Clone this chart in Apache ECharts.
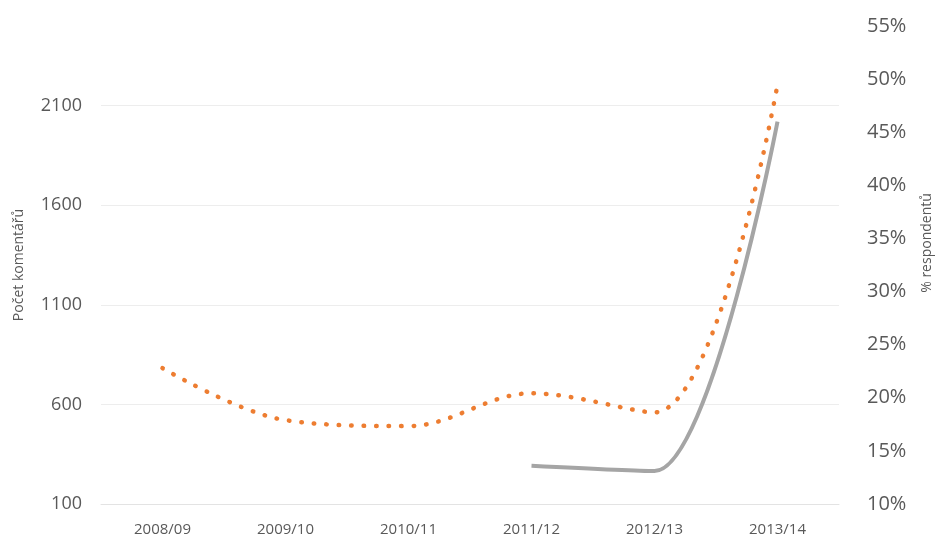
<!DOCTYPE html>
<html>
<head>
<meta charset="utf-8">
<script src="https://cdn.jsdelivr.net/npm/echarts@6/dist/echarts.min.js"></script>
<style>
html, body { margin: 0; padding: 0; background: #fff; }
#chart { width: 937px; height: 542px; }
</style>
</head>
<body>
<div id="chart"></div>
<script>
// data
const years = ["2008/09", "2009/10", "2010/11", "2011/12", "2012/13", "2013/14"];
const comments = [782, 521, 491, 656, 560, 2205];          // orange dotted, left axis
const respondents = [null, null, null, 13.6, 13.1, 46.0];  // grey, right axis (%)

const chart = echarts.init(document.getElementById("chart"));

const textColor = "#595959";
const font = "Open Sans";

const option = {
    animation: false,
    grid: { left: 101, right: 98, top: 26, bottom: 38, outerBoundsMode: "none", containLabel: false },
    xAxis: {
        type: "category",
        data: years,
        axisLine: { lineStyle: { color: "#E3E3E3", width: 1 } },
        axisTick: { show: false },
        axisLabel: { color: textColor, fontFamily: font, fontSize: 15, margin: 18 }
    },
    yAxis: [
        {
            type: "value",
            min: 100,
            max: 2500,
            interval: 500,
            name: "Počet komentářů",
            nameLocation: "middle",
            nameRotate: 90,
            nameGap: 75,
            nameTextStyle: { color: textColor, fontFamily: font, fontSize: 14 },
            axisLine: { show: false },
            axisTick: { show: false },
            axisLabel: {
                color: textColor, fontFamily: font, fontSize: 18, margin: 19, showMaxLabel: false,
                formatter: v => String(v)
            },
            splitLine: { showMaxLine: false, lineStyle: { color: "#EDEDED", width: 1 } }
        },
        {
            type: "value",
            min: 10,
            max: 55,
            interval: 5,
            position: "right",
            name: "% respondentů",
            nameLocation: "middle",
            nameRotate: 90,
            nameGap: 81,
            nameTextStyle: { color: textColor, fontFamily: font, fontSize: 14, padding: [0, 0, 0, 44] },
            axisLine: { show: false },
            axisTick: { show: false },
            axisLabel: { color: textColor, fontFamily: font, fontSize: 20, margin: 28, formatter: "{value}%" },
            splitLine: { show: false }
        }
    ],
    series: [
        {
            name: "Počet komentářů",
            type: "line",
            yAxisIndex: 0,
            data: comments,
            smooth: 0.35,
            showSymbol: false,
            lineStyle: { color: "#ED7D31", width: 4.5, type: [0.5, 12], cap: "round" }
        },
        {
            name: "% respondentů",
            type: "line",
            yAxisIndex: 1,
            data: respondents,
            smooth: 0.3,
            showSymbol: false,
            lineStyle: { color: "#A5A5A5", width: 4 }
        }
    ]
};
chart.setOption(option);
</script>
</body>
</html>
